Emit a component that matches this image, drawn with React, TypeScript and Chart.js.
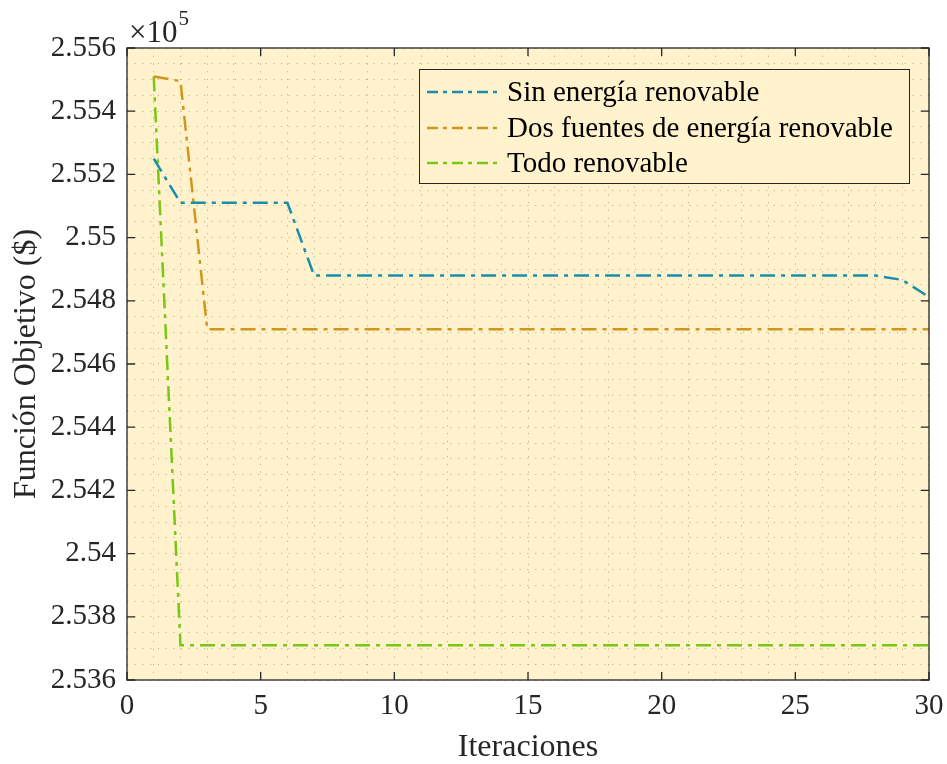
import React, { useEffect, useRef } from "react";
import { Chart, registerables } from "chart.js";

Chart.register(...registerables);

const iterations = [1, 2, 3, 4, 5, 6, 7, 8, 9, 10, 11, 12, 13, 14, 15, 16, 17, 18, 19, 20, 21, 22, 23, 24, 25, 26, 27, 28, 29, 30];

const sinRenovable = [
  2.5525, 2.5511, 2.5511, 2.5511, 2.5511, 2.5511, 2.5488, 2.5488, 2.5488, 2.5488,
  2.5488, 2.5488, 2.5488, 2.5488, 2.5488, 2.5488, 2.5488, 2.5488, 2.5488, 2.5488,
  2.5488, 2.5488, 2.5488, 2.5488, 2.5488, 2.5488, 2.5488, 2.5488, 2.54866, 2.54812,
];

const dosFuentes = [
  2.5551, 2.55495, 2.5471, 2.5471, 2.5471, 2.5471, 2.5471, 2.5471, 2.5471, 2.5471,
  2.5471, 2.5471, 2.5471, 2.5471, 2.5471, 2.5471, 2.5471, 2.5471, 2.5471, 2.5471,
  2.5471, 2.5471, 2.5471, 2.5471, 2.5471, 2.5471, 2.5471, 2.5471, 2.5471, 2.5471,
];

const todoRenovable = [
  2.5551, 2.5371, 2.5371, 2.5371, 2.5371, 2.5371, 2.5371, 2.5371, 2.5371, 2.5371,
  2.5371, 2.5371, 2.5371, 2.5371, 2.5371, 2.5371, 2.5371, 2.5371, 2.5371, 2.5371,
  2.5371, 2.5371, 2.5371, 2.5371, 2.5371, 2.5371, 2.5371, 2.5371, 2.5371, 2.5371,
];

const seriesLabels = ["Sin energía renovable", "Dos fuentes de energía renovable", "Todo renovable"];
const seriesColors = ["#1A8DAE", "#D0961E", "#78C814"];

const xTitle = "Iteraciones";
const yTitle = "Función Objetivo ($)";
const exponentBase = "×10";
const exponentPower = "5";

const X_MIN = 0;
const X_MAX = 30;
const X_MAJOR = 5;
const Y_MIN = 2.536;
const Y_MAX = 2.556;
const Y_MAJOR = 0.002;
const Y_MINOR = 0.0005;

const FONT = "'Liberation Serif', 'Times New Roman', serif";
const TEXT = "#262626";
const BG = "#FFF2CC";
const DASH = [15, 6, 4, 6];

const framePlugin = {
  id: "matlabFrame",
  beforeDraw(chart: any) {
    const { ctx, chartArea: a } = chart;
    ctx.save();
    ctx.fillStyle = BG;
    ctx.fillRect(a.left, a.top, a.right - a.left, a.bottom - a.top);
    ctx.restore();
  },
  afterDraw(chart: any) {
    const { ctx, chartArea: a, scales } = chart;
    ctx.save();
    ctx.strokeStyle = TEXT;
    ctx.lineWidth = 1.3;
    ctx.strokeRect(a.left, a.top, a.right - a.left, a.bottom - a.top);
    const tl = 8;
    ctx.beginPath();
    for (let v = X_MIN; v <= X_MAX + 1e-9; v += X_MAJOR) {
      const px = scales.x.getPixelForValue(v);
      ctx.moveTo(px, a.bottom);
      ctx.lineTo(px, a.bottom - tl);
      ctx.moveTo(px, a.top);
      ctx.lineTo(px, a.top + tl);
    }
    for (let i = 0; i <= Math.round((Y_MAX - Y_MIN) / Y_MAJOR); i++) {
      const py = scales.y.getPixelForValue(Y_MIN + i * Y_MAJOR);
      ctx.moveTo(a.left, py);
      ctx.lineTo(a.left + tl, py);
      ctx.moveTo(a.right, py);
      ctx.lineTo(a.right - tl, py);
    }
    ctx.stroke();

    // exponent label
    ctx.fillStyle = TEXT;
    ctx.textBaseline = "alphabetic";
    ctx.textAlign = "left";
    ctx.font = `31px ${FONT}`;
    ctx.fillText(exponentBase, a.left + 2, a.top - 6);
    const w = ctx.measureText(exponentBase).width;
    ctx.font = `21px ${FONT}`;
    ctx.fillText(exponentPower, a.left + 2 + w + 1, a.top - 23);

    // legend
    const lx = 419, ly = 69, lw = 490, lh = 114;
    ctx.fillStyle = BG;
    ctx.fillRect(lx, ly, lw, lh);
    ctx.strokeStyle = TEXT;
    ctx.lineWidth = 1;
    ctx.strokeRect(lx + 0.5, ly + 0.5, lw, lh);
    const rows = [92, 128, 163];
    chart.data.datasets.forEach((ds: any, i: number) => {
      const y = rows[i];
      ctx.save();
      ctx.strokeStyle = ds.borderColor;
      ctx.lineWidth = 2.5;
      ctx.setLineDash([11, 5, 4, 5]);
      ctx.beginPath();
      ctx.moveTo(427, y);
      ctx.lineTo(501, y);
      ctx.stroke();
      ctx.restore();
      ctx.fillStyle = "#000";
      ctx.font = `29px ${FONT}`;
      ctx.textBaseline = "middle";
      ctx.textAlign = "left";
      ctx.fillText(ds.label, 507, y + 1);
    });
    ctx.restore();
  },
};

const seriesValues = [sinRenovable, dosFuentes, todoRenovable];

export default function App() {
  const ref = useRef<HTMLCanvasElement | null>(null);

  useEffect(() => {
    if (!ref.current) return;
    const datasets = seriesValues.map((vals, i) => ({
      label: seriesLabels[i],
      data: iterations.map((x, j) => ({ x, y: vals[j] })),
      borderColor: seriesColors[i],
      backgroundColor: seriesColors[i],
      borderWidth: 2.5,
      borderDash: DASH,
      pointRadius: 0,
      tension: 0,
      fill: false,
    }));
    const gridCommon = {
      color: "rgba(150,140,110,0.6)",
      lineWidth: 1,
      drawTicks: false,
    };
    const borderCommon = { display: false, dash: [1.2, 6.5] };
    const chart = new Chart(ref.current, {
      type: "line",
      data: { datasets },
      plugins: [framePlugin],
      options: {
        responsive: false,
        animation: false,
        layout: { padding: { top: 48, right: 18, left: 0, bottom: 0 } },
        plugins: { legend: { display: false }, tooltip: { enabled: false } },
        scales: {
          x: {
            type: "linear",
            min: X_MIN,
            max: X_MAX,
            border: borderCommon,
            grid: gridCommon,
            ticks: {
              stepSize: 1,
              autoSkip: false,
              maxRotation: 0,
              padding: 9,
              color: TEXT,
              font: { family: FONT, size: 29 },
              callback: (v: any) => (Math.round(v) % X_MAJOR === 0 ? String(v) : ""),
            },
            title: {
              display: true,
              text: xTitle,
              color: TEXT,
              font: { family: FONT, size: 32, lineHeight: 1 },
              padding: { top: 0, bottom: 0 },
            },
            afterFit: (s: any) => {
              s.height = 84;
              s.paddingLeft = 0;
              s.paddingRight = 0;
            },
          },
          y: {
            type: "linear",
            min: Y_MIN,
            max: Y_MAX,
            border: borderCommon,
            grid: gridCommon,
            ticks: {
              stepSize: Y_MINOR,
              autoSkip: false,
              padding: 11,
              color: TEXT,
              font: { family: FONT, size: 29 },
              callback: (v: any) =>
                Math.round(Number(v) * 10000) % 20 === 0 ? String(parseFloat(Number(v).toFixed(3))) : "",
            },
            title: {
              display: true,
              text: yTitle,
              color: TEXT,
              font: { family: FONT, size: 32, lineHeight: 1 },
              padding: { top: 11, bottom: 0 },
            },
            afterFit: (s: any) => {
              s.width = 127;
              s.paddingTop = 0;
              s.paddingBottom = 0;
            },
          },
        },
      } as any,
    });
    return () => chart.destroy();
  }, []);

  return (
    <div style={{ position: "fixed", left: 0, top: 0, width: 947, height: 764, background: "#fff" }}>
      <canvas ref={ref} width={947} height={764} style={{ width: 947, height: 764, display: "block" }} />
    </div>
  );
}
